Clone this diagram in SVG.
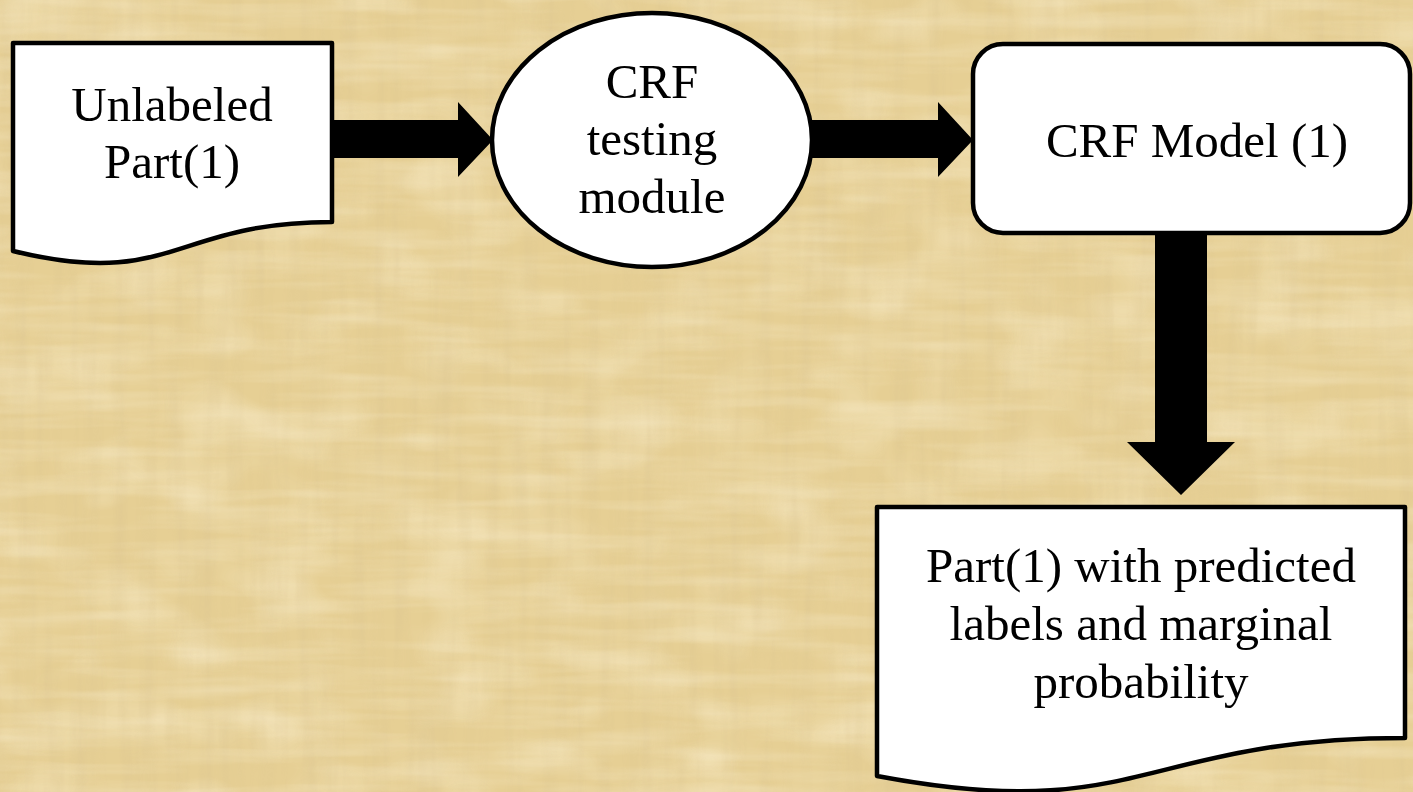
<svg xmlns="http://www.w3.org/2000/svg" width="1413" height="792" viewBox="0 0 1413 792">
  <style>
    .shape { fill: #ffffff; stroke: #000000; stroke-width: 4.5; stroke-linejoin: round; }
    .arrow { fill: #000000; stroke: none; }
    .label { font-family: "Liberation Serif", "DejaVu Serif", serif; font-size: 49px; fill: #000000; text-anchor: middle; }
  </style>
  <defs>
    <!-- papyrus-like fibre texture: stretched noise along both axes -->
    <filter id="fibresV" x="0" y="0" width="100%" height="100%">
      <feTurbulence type="fractalNoise" baseFrequency="0.07 0.006" numOctaves="3" seed="4"/>
      <feColorMatrix type="matrix" values="0 0 0 0 0.70  0 0 0 0 0.55  0 0 0 0 0.28  0 0 0 -1.8 1.1"/>
    </filter>
    <filter id="fibresH" x="0" y="0" width="100%" height="100%">
      <feTurbulence type="fractalNoise" baseFrequency="0.006 0.07" numOctaves="3" seed="9"/>
      <feColorMatrix type="matrix" values="0 0 0 0 1.0  0 0 0 0 0.94  0 0 0 0 0.76  0 0 0 -1.8 1.1"/>
    </filter>
    <filter id="patches" x="0" y="0" width="100%" height="100%">
      <feTurbulence type="fractalNoise" baseFrequency="0.012 0.02" numOctaves="2" seed="21"/>
      <feColorMatrix type="matrix" values="0 0 0 0 0.96  0 0 0 0 0.86  0 0 0 0 0.62  0 0 0 -2.2 1.2"/>
    </filter>
  </defs>

  <!-- background -->
  <rect x="0" y="0" width="1413" height="792" fill="#e6cf94"/>
  <rect x="0" y="0" width="1413" height="792" filter="url(#patches)" opacity="0.5"/>
  <rect x="0" y="0" width="1413" height="792" filter="url(#fibresV)" opacity="0.4"/>
  <rect x="0" y="0" width="1413" height="792" filter="url(#fibresH)" opacity="0.3"/>

  <!-- connectors: block arrows -->
  <g id="connectors">
    <path class="arrow" d="M332,120 L458,120 L458,102 L493,140 L458,177 L458,158 L332,158 Z"/>
    <path class="arrow" d="M812,120 L938,120 L938,102 L973,140 L938,177 L938,158 L812,158 Z"/>
    <path class="arrow" d="M1155,234 L1207,234 L1207,442 L1235,442 L1181,495 L1127,442 L1155,442 Z"/>
  </g>

  <!-- input document -->
  <g id="unlabeled-part">
    <path class="shape" d="M13,43 L332,43 L332,222 C172.5,222 172.5,290 13,251 Z"/>
    <text class="label" x="172" y="121">Unlabeled</text>
    <text class="label" x="172" y="178">Part(1)</text>
  </g>

  <!-- testing module -->
  <g id="crf-testing">
    <ellipse class="shape" cx="652" cy="140" rx="160" ry="127"/>
    <text class="label" x="652" y="98">CRF</text>
    <text class="label" x="652" y="155">testing</text>
    <text class="label" x="652" y="213">module</text>
  </g>

  <!-- model -->
  <g id="crf-model">
    <rect class="shape" x="973" y="44" width="437" height="189" rx="30" ry="30"/>
    <text class="label" x="1197" y="157">CRF Model (1)</text>
  </g>

  <!-- output document -->
  <g id="predicted-part">
    <path class="shape" d="M877,507 L1405,507 L1405,738 C1141,738 1141,826 877,776 Z"/>
    <text class="label" x="1141" y="582">Part(1) with predicted</text>
    <text class="label" x="1141" y="640">labels and marginal</text>
    <text class="label" x="1141" y="698">probability</text>
  </g>
</svg>
